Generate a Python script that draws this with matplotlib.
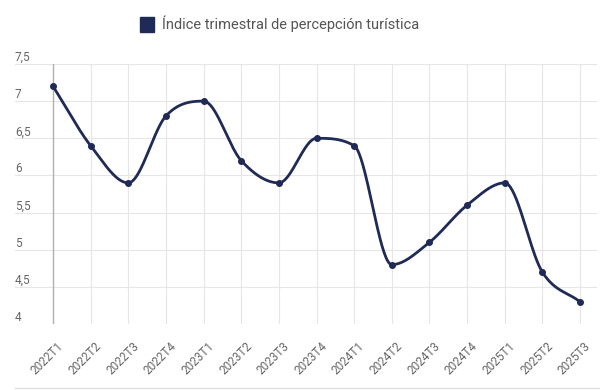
import numpy as np
import matplotlib
matplotlib.use("Agg")
import matplotlib.pyplot as plt
import matplotlib.transforms as mtransforms
from matplotlib.lines import Line2D
from matplotlib.patches import Rectangle

plt.rcParams['font.family'] = ['Roboto', 'DejaVu Sans']

# ---------- Données ----------
trimestres = ["2022T1", "2022T2", "2022T3", "2022T4", "2023T1", "2023T2", "2023T3",
              "2023T4", "2024T1", "2024T2", "2024T3", "2024T4", "2025T1", "2025T2", "2025T3"]
indice = [7.2, 6.4, 5.9, 6.8, 7.0, 6.2, 5.9, 6.5, 6.4, 4.8, 5.1, 5.6, 5.9, 4.7, 4.3]
y_ticks = [4, 4.5, 5, 5.5, 6, 6.5, 7, 7.5]
serie_label = "Índice trimestral de percepción turística"

navy = "#1f2a56"
grid_c = "#e6e6e6"
text_c = "#666666"


# ---------- Courbe monotone (style Chart.js) ----------
def monotone_curve(x, y, n=40):
    x = np.asarray(x, float)
    y = np.asarray(y, float)
    k = len(x)
    delta = np.diff(y) / np.diff(x)
    m = np.zeros(k)
    m[0] = delta[0]
    m[-1] = delta[-1]
    for i in range(1, k - 1):
        if np.sign(delta[i - 1]) != np.sign(delta[i]) or delta[i - 1] == 0 or delta[i] == 0:
            m[i] = 0
        else:
            m[i] = (delta[i - 1] + delta[i]) / 2
    for i in range(k - 1):
        if delta[i] == 0:
            m[i] = m[i + 1] = 0
            continue
        a = m[i] / delta[i]
        b = m[i + 1] / delta[i]
        if a < 0 or b < 0:
            continue
        s = a * a + b * b
        if s > 9:
            t = 3 / np.sqrt(s)
            m[i] = a * t * delta[i]
            m[i + 1] = b * t * delta[i]
    xs, ys = [], []
    u = np.linspace(0, 1, n)
    for i in range(k - 1):
        dx = (x[i + 1] - x[i]) / 3
        p0 = np.array([x[i], y[i]])
        p1 = np.array([x[i] + dx, y[i] + m[i] * dx])
        p2 = np.array([x[i + 1] - dx, y[i + 1] - m[i + 1] * dx])
        p3 = np.array([x[i + 1], y[i + 1]])
        pts = ((1 - u)[:, None] ** 3 * p0 + 3 * ((1 - u) ** 2 * u)[:, None] * p1
               + 3 * ((1 - u) * u ** 2)[:, None] * p2 + (u ** 3)[:, None] * p3)
        xs.extend(pts[:, 0])
        ys.extend(pts[:, 1])
    return np.array(xs), np.array(ys)


# ---------- Figure ----------
fig = plt.figure(figsize=(6, 3.9), dpi=100)
ax = fig.add_axes([0.025, 0.169, 0.97, 0.667])

x = np.arange(len(trimestres))
step = (580 - 53) / (len(trimestres) - 1)
ax.set_xlim(-(53 - 15) / step, (597 - 53) / step)
ax.set_ylim(4, 7.5)

# grille
for v in y_ticks:
    ax.axhline(v, color=grid_c, lw=0.8, zorder=0)
for xi in x[1:]:
    ax.axvline(xi, color=grid_c, lw=0.8, zorder=0)
ax.axvline(0, color="#b0b0b0", lw=1.0, zorder=1)

for s in ax.spines.values():
    s.set_visible(False)
ax.set_yticks([])
ax.set_xticks(x)
ax.set_xticklabels(trimestres, rotation=45, ha="right", va="top",
                   rotation_mode="anchor", fontsize=8.5, color=text_c)
ax.tick_params(axis="x", length=0, pad=11)
shift = mtransforms.ScaledTranslation(4 / 100, 0, fig.dpi_scale_trans)
for lab in ax.get_xticklabels():
    lab.set_transform(lab.get_transform() + shift)

# étiquettes Y au-dessus des lignes
for v in y_ticks:
    lab = ("%g" % v).replace(".", ",")
    ax.text(0.0, v, lab, transform=ax.get_yaxis_transform(), ha="left", va="bottom",
            fontsize=8.5, color=text_c)

cx, cy = monotone_curve(x, indice)
ax.plot(cx, cy, color=navy, lw=2.0, solid_capstyle="round", zorder=3)
ax.plot(x, indice, "o", color=navy, ms=4, zorder=4)

# légende
fig.add_artist(Rectangle((140 / 600, 1 - 32 / 390), 14 / 600, 15 / 390,
                         transform=fig.transFigure, color=navy))
fig.text(162 / 600, 1 - 24 / 390, serie_label, ha="left", va="center",
         fontsize=10.5, color="#555555")

# ligne de séparation en bas
fig.add_artist(Line2D([15 / 600, 1.0], [1 - 388 / 390] * 2, color="#e0e0e0", lw=1.0))

fig.savefig("out.png", dpi=100)
